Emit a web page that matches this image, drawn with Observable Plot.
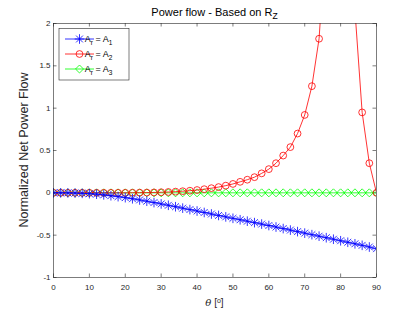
<!DOCTYPE html>
<html><head><meta charset="utf-8">
<script src="https://cdn.jsdelivr.net/npm/d3@7"></script>
<script src="https://cdn.jsdelivr.net/npm/@observablehq/plot@0.6"></script>
<style>body{margin:0;background:#fff} svg{display:block}</style>
</head><body><div id="chart"></div>
<script>
// ---- data ----
const theta = [0,2,4,6,8,10,12,14,16,18,20,22,24,26,28,30,32,34,36,38,40,42,44,46,48,50,52,54,56,58,60,62,64,66,68,70,72,74,76,78,80,82,84,86,88,90];
const flowA1 = [0,0,-0.001,-0.003,-0.006,-0.01,-0.016,-0.024,-0.034,-0.045,-0.057,-0.07,-0.084,-0.099,-0.115,-0.131,-0.147,-0.164,-0.181,-0.198,-0.215,-0.232,-0.25,-0.267,-0.284,-0.301,-0.318,-0.335,-0.352,-0.369,-0.386,-0.404,-0.422,-0.44,-0.458,-0.476,-0.494,-0.512,-0.53,-0.548,-0.566,-0.584,-0.602,-0.62,-0.64,-0.66];
const flowA2 = [0,0,0,0,0,0,0,0,0,0,0,0.001,0.002,0.003,0.005,0.007,0.01,0.014,0.019,0.025,0.033,0.043,0.055,0.068,0.085,0.105,0.13,0.155,0.185,0.23,0.28,0.35,0.44,0.54,0.7,0.92,1.26,1.82,3.1,6.5,40,6.0,2.15,0.95,0.35,0];
const flowA3 = theta.map(() => 0);
const seriesNames = ["A1","A2","A3"];
const seriesColors = ["#0000ff","#ff0000","#00ff00"];
const xTicks = [0,10,20,30,40,50,60,70,80,90];
const yTicks = [-1,-0.5,0,0.5,1,1.5,2];
const yTickLabels = ["-1","-0.5","0","0.5","1","1.5","2"];

const rows = [];
[flowA1, flowA2, flowA3].forEach((vals, i) => vals.forEach((v, j) => rows.push({theta: theta[j], value: v, series: seriesNames[i]})));
const s1 = rows.filter(d => d.series === "A1");
const s2 = rows.filter(d => d.series === "A2");
const s3 = rows.filter(d => d.series === "A3");

const W = 415, H = 312, mL = 53, mR = 39, mT = 23, mB = 35;
const ph = H - mT - mB;
const font = "'Liberation Sans', Arial, sans-serif";
const axisCol = "#262626";

const chart = Plot.plot({
  width: W, height: H,
  marginLeft: mL, marginRight: mR, marginTop: mT, marginBottom: mB,
  style: {fontFamily: font, background: "white"},
  x: {domain: [0, 90]},
  y: {domain: [-1, 2]},
  marks: [
    Plot.axisX(xTicks, {tickSize: 0, tickPadding: 7, fontSize: 8, color: axisCol, label: null}),
    Plot.axisY(yTicks, {tickSize: 0, tickPadding: 3, fontSize: 8, color: axisCol, label: null, tickFormat: (d) => yTickLabels[yTicks.indexOf(d)]}),
    Plot.tickX(xTicks, {x: d => d, insetTop: ph - 3.5, stroke: axisCol, strokeWidth: 0.6}),
    Plot.tickX(xTicks, {x: d => d, insetBottom: ph - 3.5, stroke: axisCol, strokeWidth: 0.6}),
    Plot.tickY(yTicks, {y: d => d, insetRight: W - mL - mR - 3.5, stroke: axisCol, strokeWidth: 0.6}),
    Plot.tickY(yTicks, {y: d => d, insetLeft: W - mL - mR - 3.5, stroke: axisCol, strokeWidth: 0.6}),
    Plot.lineY(s3, {x: "theta", y: "value", stroke: seriesColors[2], strokeWidth: 0.8, clip: true}),
    Plot.dot(s3, {x: "theta", y: "value", symbol: "diamond2", r: 3.6, stroke: seriesColors[2], strokeWidth: 0.8, fill: "none", clip: true}),
    Plot.lineY(s2, {x: "theta", y: "value", stroke: seriesColors[1], strokeWidth: 0.8, clip: true}),
    Plot.dot(s2, {x: "theta", y: "value", symbol: "circle", r: 3.4, stroke: seriesColors[1], strokeWidth: 0.8, fill: "none", clip: true}),
    Plot.lineY(s1, {x: "theta", y: "value", stroke: seriesColors[0], strokeWidth: 0.8, clip: true}),
    Plot.dot(s1, {x: "theta", y: "value", symbol: "plus", r: 3.2, stroke: seriesColors[0], strokeWidth: 0.8, clip: true}),
    Plot.dot(s1, {x: "theta", y: "value", symbol: "times", r: 3.2, stroke: seriesColors[0], strokeWidth: 0.8, clip: true}),
    Plot.frame({stroke: axisCol, strokeWidth: 0.6})
  ]
});
document.getElementById("chart").appendChild(chart);

const svg = d3.select(chart);
// title
const t = svg.append("text").attr("x", (mL + W - mR) / 2).attr("y", 15.5).attr("text-anchor", "middle")
  .attr("font-family", font).attr("font-size", 11).attr("fill", "#000");
t.append("tspan").text("Power flow - Based on R");
t.append("tspan").attr("dy", 3.5).attr("font-size", 8.5).text("Z");
// x label
const xl = svg.append("text").attr("x", (mL + W - mR) / 2).attr("y", 306).attr("text-anchor", "middle")
  .attr("font-family", font).attr("font-size", 10).attr("fill", axisCol);
xl.append("tspan").attr("font-style", "italic").attr("font-family", "'DejaVu Serif', serif").text("θ");
xl.append("tspan").text(" [");
xl.append("tspan").attr("dy", -3.5).attr("font-size", 7).text("o");
xl.append("tspan").attr("dy", 3.5).text("]");
// y label
svg.append("text").attr("transform", `translate(28,${mT + ph / 2}) rotate(-90)`).attr("text-anchor", "middle")
  .attr("font-family", font).attr("font-size", 12.5).attr("fill", axisCol).text("Normalized Net Power Flow");

// legend
const lg = svg.append("g");
lg.append("rect").attr("x", 59).attr("y", 28.5).attr("width", 70).attr("height", 51.5)
  .attr("fill", "white").attr("stroke", axisCol).attr("stroke-width", 0.6);
const rowsY = [39, 54, 69];
const symSets = [[d3.symbolPlus, d3.symbolTimes], [d3.symbolCircle], [d3.symbolDiamond2]];
const symR = [3.2, 3.4, 3.6];
seriesNames.forEach((name, i) => {
  const y = rowsY[i];
  lg.append("line").attr("x1", 65).attr("x2", 94).attr("y1", y).attr("y2", y)
    .attr("stroke", seriesColors[i]).attr("stroke-width", 0.8);
  symSets[i].forEach(sym => {
    lg.append("path").attr("d", d3.symbol(sym, Math.PI * symR[i] * symR[i])())
      .attr("transform", `translate(79.5,${y})`).attr("fill", "none")
      .attr("stroke", seriesColors[i]).attr("stroke-width", 0.8);
  });
  const tx = lg.append("text").attr("x", 98.5).attr("y", y + 3).attr("font-family", font)
    .attr("font-size", 9).attr("fill", "#000");
  tx.append("tspan").text("A");
  tx.append("tspan").attr("dy", 2.5).attr("font-size", 6.5).text("r");
  tx.append("tspan").attr("dy", -2.5).text(" = A");
  tx.append("tspan").attr("dy", 2.5).attr("font-size", 6.5).text(name.slice(1));
});
</script></body></html>
